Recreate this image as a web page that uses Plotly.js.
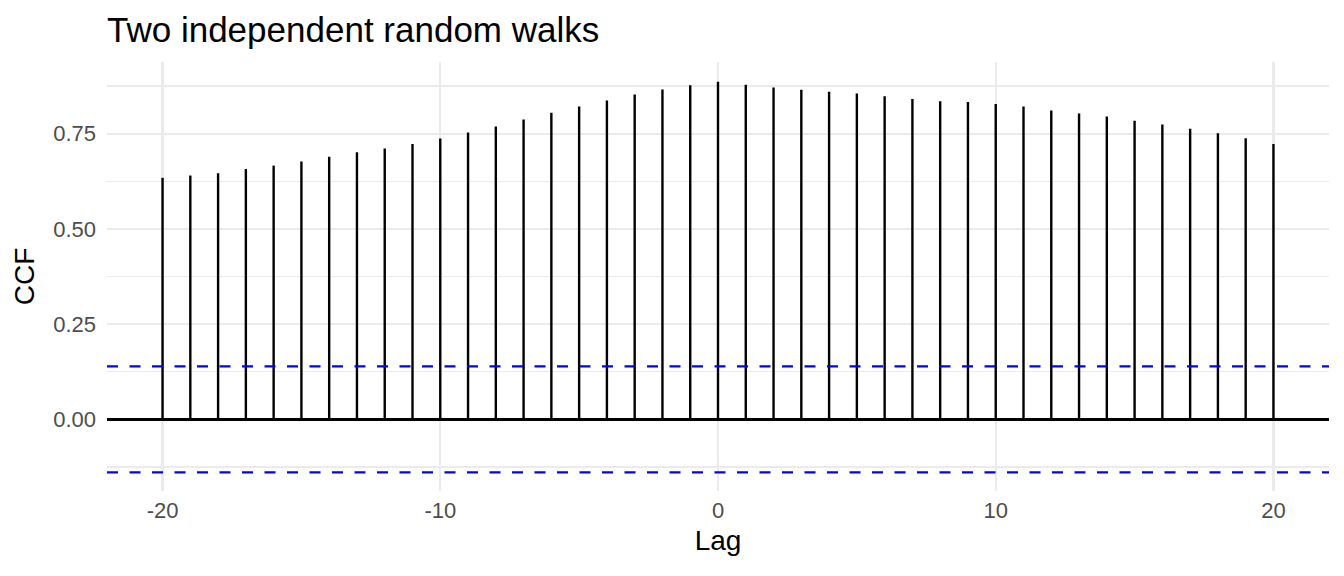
<!DOCTYPE html>
<html>
<head>
<meta charset="utf-8">
<script src="https://cdn.plot.ly/plotly-3.0.1.min.js"></script>
<style>
  html, body { margin: 0; padding: 0; background: #fff; }
  #graph { width: 1344px; height: 576px; }
</style>
</head>
<body>
<div id="graph"></div>
<script>
// Данные: лаги и значения CCF
const lags = [-20, -19, -18, -17, -16, -15, -14, -13, -12, -11, -10, -9, -8, -7, -6, -5, -4, -3, -2, -1,
  0, 1, 2, 3, 4, 5, 6, 7, 8, 9, 10, 11, 12, 13, 14, 15, 16, 17, 18, 19, 20];
const ccfValues = [0.634, 0.640, 0.646, 0.657, 0.666, 0.677, 0.689, 0.701, 0.711, 0.723, 0.737,
  0.753, 0.769, 0.787, 0.805, 0.821, 0.837, 0.853, 0.866, 0.877,
  0.886, 0.878, 0.871, 0.865, 0.860, 0.855, 0.848, 0.841, 0.835, 0.833, 0.828,
  0.821, 0.811, 0.803, 0.795, 0.784, 0.774, 0.763, 0.751, 0.738, 0.723];
// граница доверительного интервала
const ciBound = 0.139;

const xTicks = [-20, -10, 0, 10, 20];
const yTicks = [0, 0.25, 0.5, 0.75];
const yTickLabels = ["0.00", "0.25", "0.50", "0.75"];

const GRAPH_ELEM_ID = "graph";
const FONT = "Liberation Sans, Arial, Helvetica, sans-serif";

// вертикальные отрезки от 0 до значения
let segX = [];
let segY = [];
for (let i = 0; i < lags.length; i++) {
  segX.push(lags[i], lags[i], null);
  segY.push(0, ccfValues[i], null);
}

const stems = {
  x: segX,
  y: segY,
  mode: "lines",
  type: "scatter",
  line: { color: "#000000", width: 2.4 },
  hoverinfo: "skip",
  showlegend: false,
};

function ciLine(y) {
  return {
    type: "line",
    xref: "paper",
    x0: 0,
    x1: 1,
    yref: "y",
    y0: y,
    y1: y,
    line: { color: "#0000ff", width: 2.2, dash: "11px,11.5px" },
    layer: "above",
  };
}

const layout = {
  width: 1344,
  height: 576,
  margin: { l: 107, r: 15, t: 62, b: 85 },
  paper_bgcolor: "#ffffff",
  plot_bgcolor: "#ffffff",
  font: { family: FONT, color: "#000000" },
  showlegend: false,
  title: {
    text: "Two independent random walks",
    font: { family: FONT, size: 35, color: "#000000" },
    xref: "paper",
    x: 0,
    xanchor: "left",
    yref: "container",
    y: 1 - 30 / 576,
    yanchor: "middle",
  },
  xaxis: {
    range: [-22, 22],
    tickvals: xTicks,
    ticktext: xTicks.map(String),
    showgrid: true,
    gridcolor: "#ebebeb",
    gridwidth: 2.2,
    zeroline: false,
    showline: false,
    ticks: "",
    ticklabelstandoff: 4,
    tickfont: { family: FONT, size: 22, color: "#4d4d4d" },
    title: {
      text: "Lag",
      font: { family: FONT, size: 28, color: "#000000" },
      standoff: 8,
    },
  },
  yaxis: {
    range: [-0.188, 0.938],
    tickvals: yTicks,
    ticktext: yTickLabels,
    showgrid: true,
    gridcolor: "#ebebeb",
    gridwidth: 2.2,
    minor: {
      dtick: 0.125,
      tick0: 0.125,
      showgrid: true,
      gridcolor: "#ebebeb",
      gridwidth: 1.2,
      ticks: "",
    },
    zeroline: true,
    zerolinecolor: "#000000",
    zerolinewidth: 2.4,
    showline: false,
    ticks: "",
    ticklabelstandoff: 10,
    tickfont: { family: FONT, size: 22, color: "#4d4d4d" },
    title: {
      text: "CCF",
      font: { family: FONT, size: 28, color: "#000000" },
      standoff: 10,
    },
  },
  shapes: [ciLine(ciBound), ciLine(-ciBound)],
};

const config = { responsive: false, displayModeBar: false, staticPlot: true };

Plotly.newPlot(GRAPH_ELEM_ID, [stems], layout, config);
</script>
</body>
</html>
